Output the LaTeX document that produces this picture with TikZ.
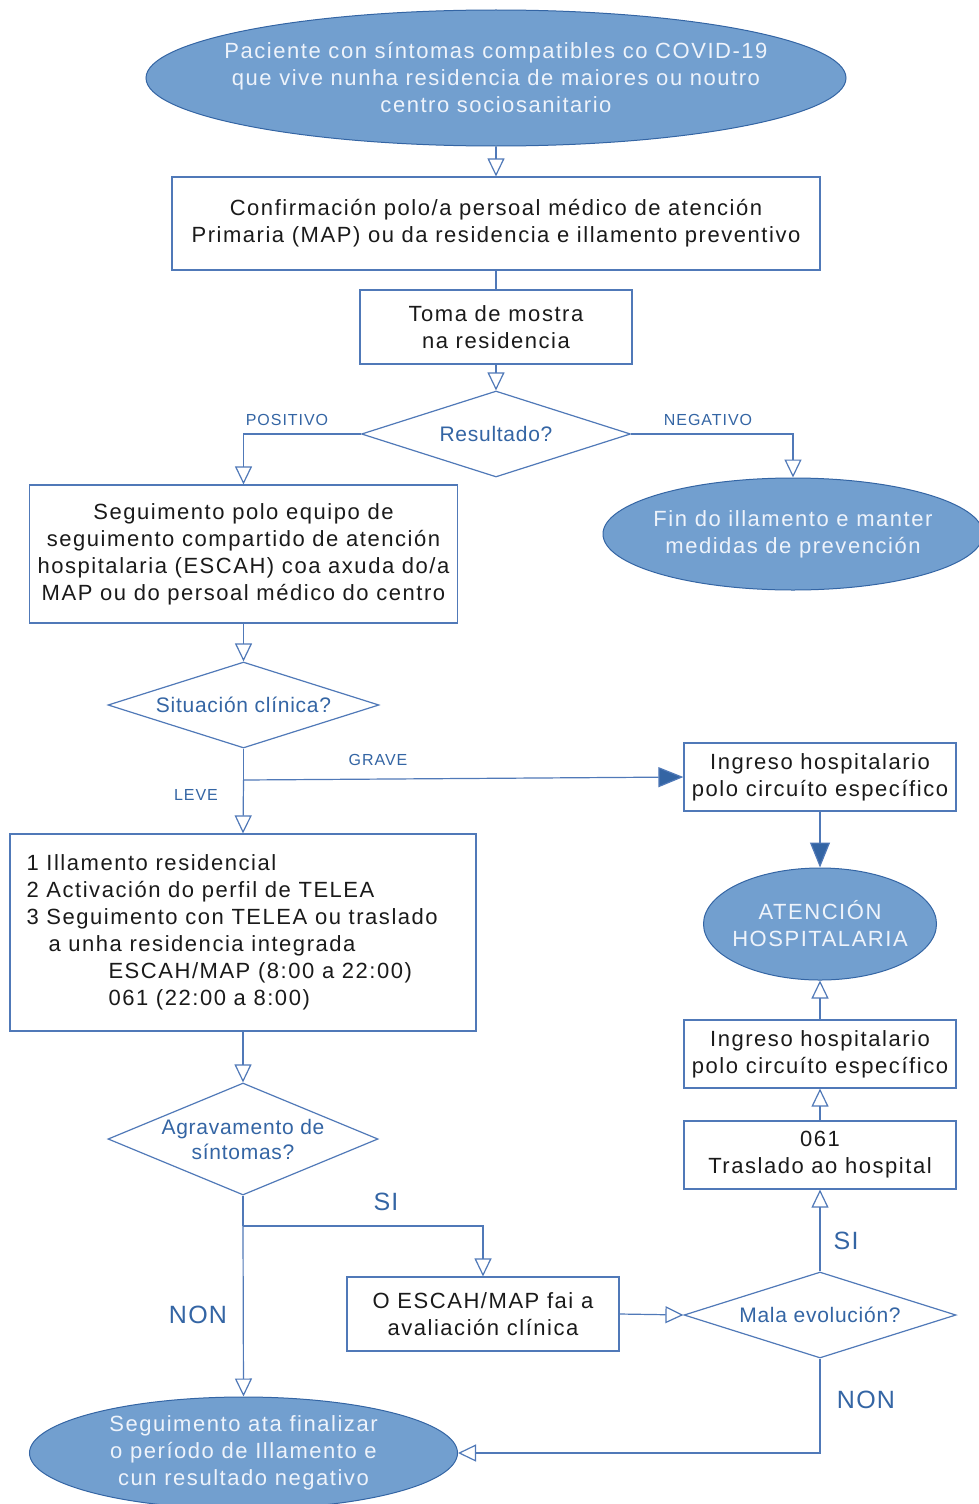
\documentclass[tikz,border=0pt]{standalone}
\usepackage{fontspec}
\setmainfont{Liberation Sans}
\usetikzlibrary{shapes.geometric,arrows.meta}
\definecolor{lineblue}{HTML}{5079B8}
\definecolor{ellfill}{HTML}{729FCF}
\definecolor{ellborder}{HTML}{3465A4}
\definecolor{lblblue}{HTML}{3465A4}
\definecolor{boxtext}{HTML}{1A1A1A}
\definecolor{elltext}{HTML}{EEF3FB}
\begin{document}
\begin{tikzpicture}[x=1pt,y=-1pt,
  box/.style={draw=lineblue, line width=1.2pt, rectangle, inner sep=0pt, align=center, text=boxtext, font=\fontsize{22}{27}\selectfont\addfontfeature{LetterSpace=7}},
  ell/.style={ellipse, fill=ellfill, draw=ellborder, line width=1pt, inner sep=0pt},
  elltxt/.style={align=center, text=elltext, font=\fontsize{22}{27}\selectfont\addfontfeature{LetterSpace=7}},
  dia/.style={diamond, draw=lineblue, line width=1.2pt, inner sep=0pt},
  diatxt/.style={align=center, text=lblblue, font=\fontsize{21}{25}\selectfont\addfontfeature{LetterSpace=3.5}},
  lbl/.style={text=lblblue, font=\fontsize{16}{18}\selectfont\addfontfeature{LetterSpace=6}},
  biglbl/.style={text=lblblue, font=\fontsize{25}{28}\selectfont\addfontfeature{LetterSpace=5}},
  conn/.style={draw=lineblue, line width=1.2pt},
  oarr/.style={conn, -{Triangle[open, length=18pt, width=17pt]}},
  farr/.style={conn, -{Triangle[length=25pt, width=20pt, fill=ellborder]}},
]
\clip (0,0) rectangle (979,1504);
\fill[white] (0,0) rectangle (979,1504);

\node[ell, minimum width=700pt, minimum height=136pt] (start) at (496,78) {};
\node[elltxt] at (start) {Paciente con síntomas compatibles co COVID-19\\que vive nunha residencia de maiores ou noutro\\centro sociosanitario};

\node[box, minimum width=648pt, minimum height=93pt] (confirm) at (496,223.5) {Confirmación polo/a persoal médico de atención\\Primaria (MAP) ou da residencia e illamento preventivo};

\node[box, minimum width=272pt, minimum height=74pt] (toma) at (496,327) {Toma de mostra\\na residencia};

\node[dia, minimum width=269pt, minimum height=86pt] (res) at (496,434) {};
\node[diatxt] at (res) {Resultado?};

\node[box, minimum width=428pt, minimum height=138pt] (seg) at (243.5,554) {Seguimento polo equipo de\\seguimento compartido de atención\\hospitalaria (ESCAH) coa axuda do/a\\MAP ou do persoal médico do centro};

\node[ell, minimum width=380pt, minimum height=112pt] (fin) at (793,534) {};
\node[elltxt] at (fin) {Fin do illamento e manter\\medidas de prevención};

\node[dia, minimum width=271pt, minimum height=86pt] (sit) at (243.5,705) {};
\node[diatxt] at (sit) {Situación clínica?};

\node[box, minimum width=272pt, minimum height=68pt] (ingA) at (820,777) {Ingreso hospitalario\\polo circuíto específico};

\node[ell, minimum width=233pt, minimum height=112pt] (aten) at (820,924) {};
\node[elltxt] at (aten) {ATENCIÓN\\HOSPITALARIA};

\node[box, minimum width=466pt, minimum height=197pt] (leve) at (243,932.5) {};
\node[anchor=west, align=left, text=boxtext, font=\fontsize{22}{27}\selectfont\addfontfeature{LetterSpace=7}] (levetxt) at (23,932.5) {1 Illamento residencial\\2 Activación do perfil de TELEA\\3 Seguimento con TELEA ou traslado\\\hspace*{22pt}a unha residencia integrada\\\hspace*{82pt}ESCAH/MAP (8:00 a 22:00)\\\hspace*{82pt}061 (22:00 a 8:00)};

\node[dia, minimum width=270pt, minimum height=112pt] (agr) at (243,1139) {};
\node[diatxt] at (agr) {Agravamento de\\síntomas?};

\node[box, minimum width=272pt, minimum height=74pt] (aval) at (483,1314) {O ESCAH/MAP fai a\\avaliación clínica};

\node[dia, minimum width=272pt, minimum height=86pt] (mala) at (820,1315) {};
\node[diatxt] at (mala) {Mala evolución?};

\node[box, minimum width=272pt, minimum height=68pt] (ingB) at (820,1054) {Ingreso hospitalario\\polo circuíto específico};
\node[box, minimum width=272pt, minimum height=68pt] (tras) at (820,1155) {061\\Traslado ao hospital};

\node[ell, minimum width=428pt, minimum height=112pt] (segfin) at (243.5,1453) {};
\node[elltxt] at (segfin) {Seguimento ata finalizar\\o período de Illamento e\\cun resultado negativo};

% connectors
\draw[oarr] (start.south) -- (confirm.north);
\draw[conn] (confirm.south) -- (toma.north);
\draw[oarr] (toma.south) -- (res.north);
\draw[oarr] (res.west) -| (seg.north);
\draw[oarr] (res.east) -| (fin.north);
\node[lbl] at (287,420) {POSITIVO};
\node[lbl] at (708,420) {NEGATIVO};
\draw[oarr] (seg.south) -- (sit.north);
\coordinate (j1) at (243.5,780);
\draw[conn] (sit.south) -- (j1);
\draw[farr] (j1) -- (ingA.west);
\draw[oarr] (j1) -- (leve.north);
\node[lbl] at (378,760) {GRAVE};
\node[lbl] at (196,795) {LEVE};
\draw[farr] (ingA.south) -- (aten.north);
\draw[oarr] (leve.south) -- (agr.north);
\coordinate (j2) at (243,1226);
\draw[conn] (agr.south) -- (j2);
\draw[oarr] (j2) -| (aval.north);
\draw[oarr] (j2) -- (segfin.north);
\node[biglbl] at (386,1202) {SI};
\node[biglbl] at (198,1315) {NON};
\draw[oarr] (aval.east) -- (mala.west);
\draw[oarr] (mala.north) -- (tras.south);
\draw[oarr] (tras.north) -- (ingB.south);
\draw[oarr] (ingB.north) -- (aten.south);
\draw[oarr] (mala.south) |- (segfin.east);
\node[biglbl] at (846,1241) {SI};
\node[biglbl] at (866,1400) {NON};
\end{tikzpicture}
\end{document}
